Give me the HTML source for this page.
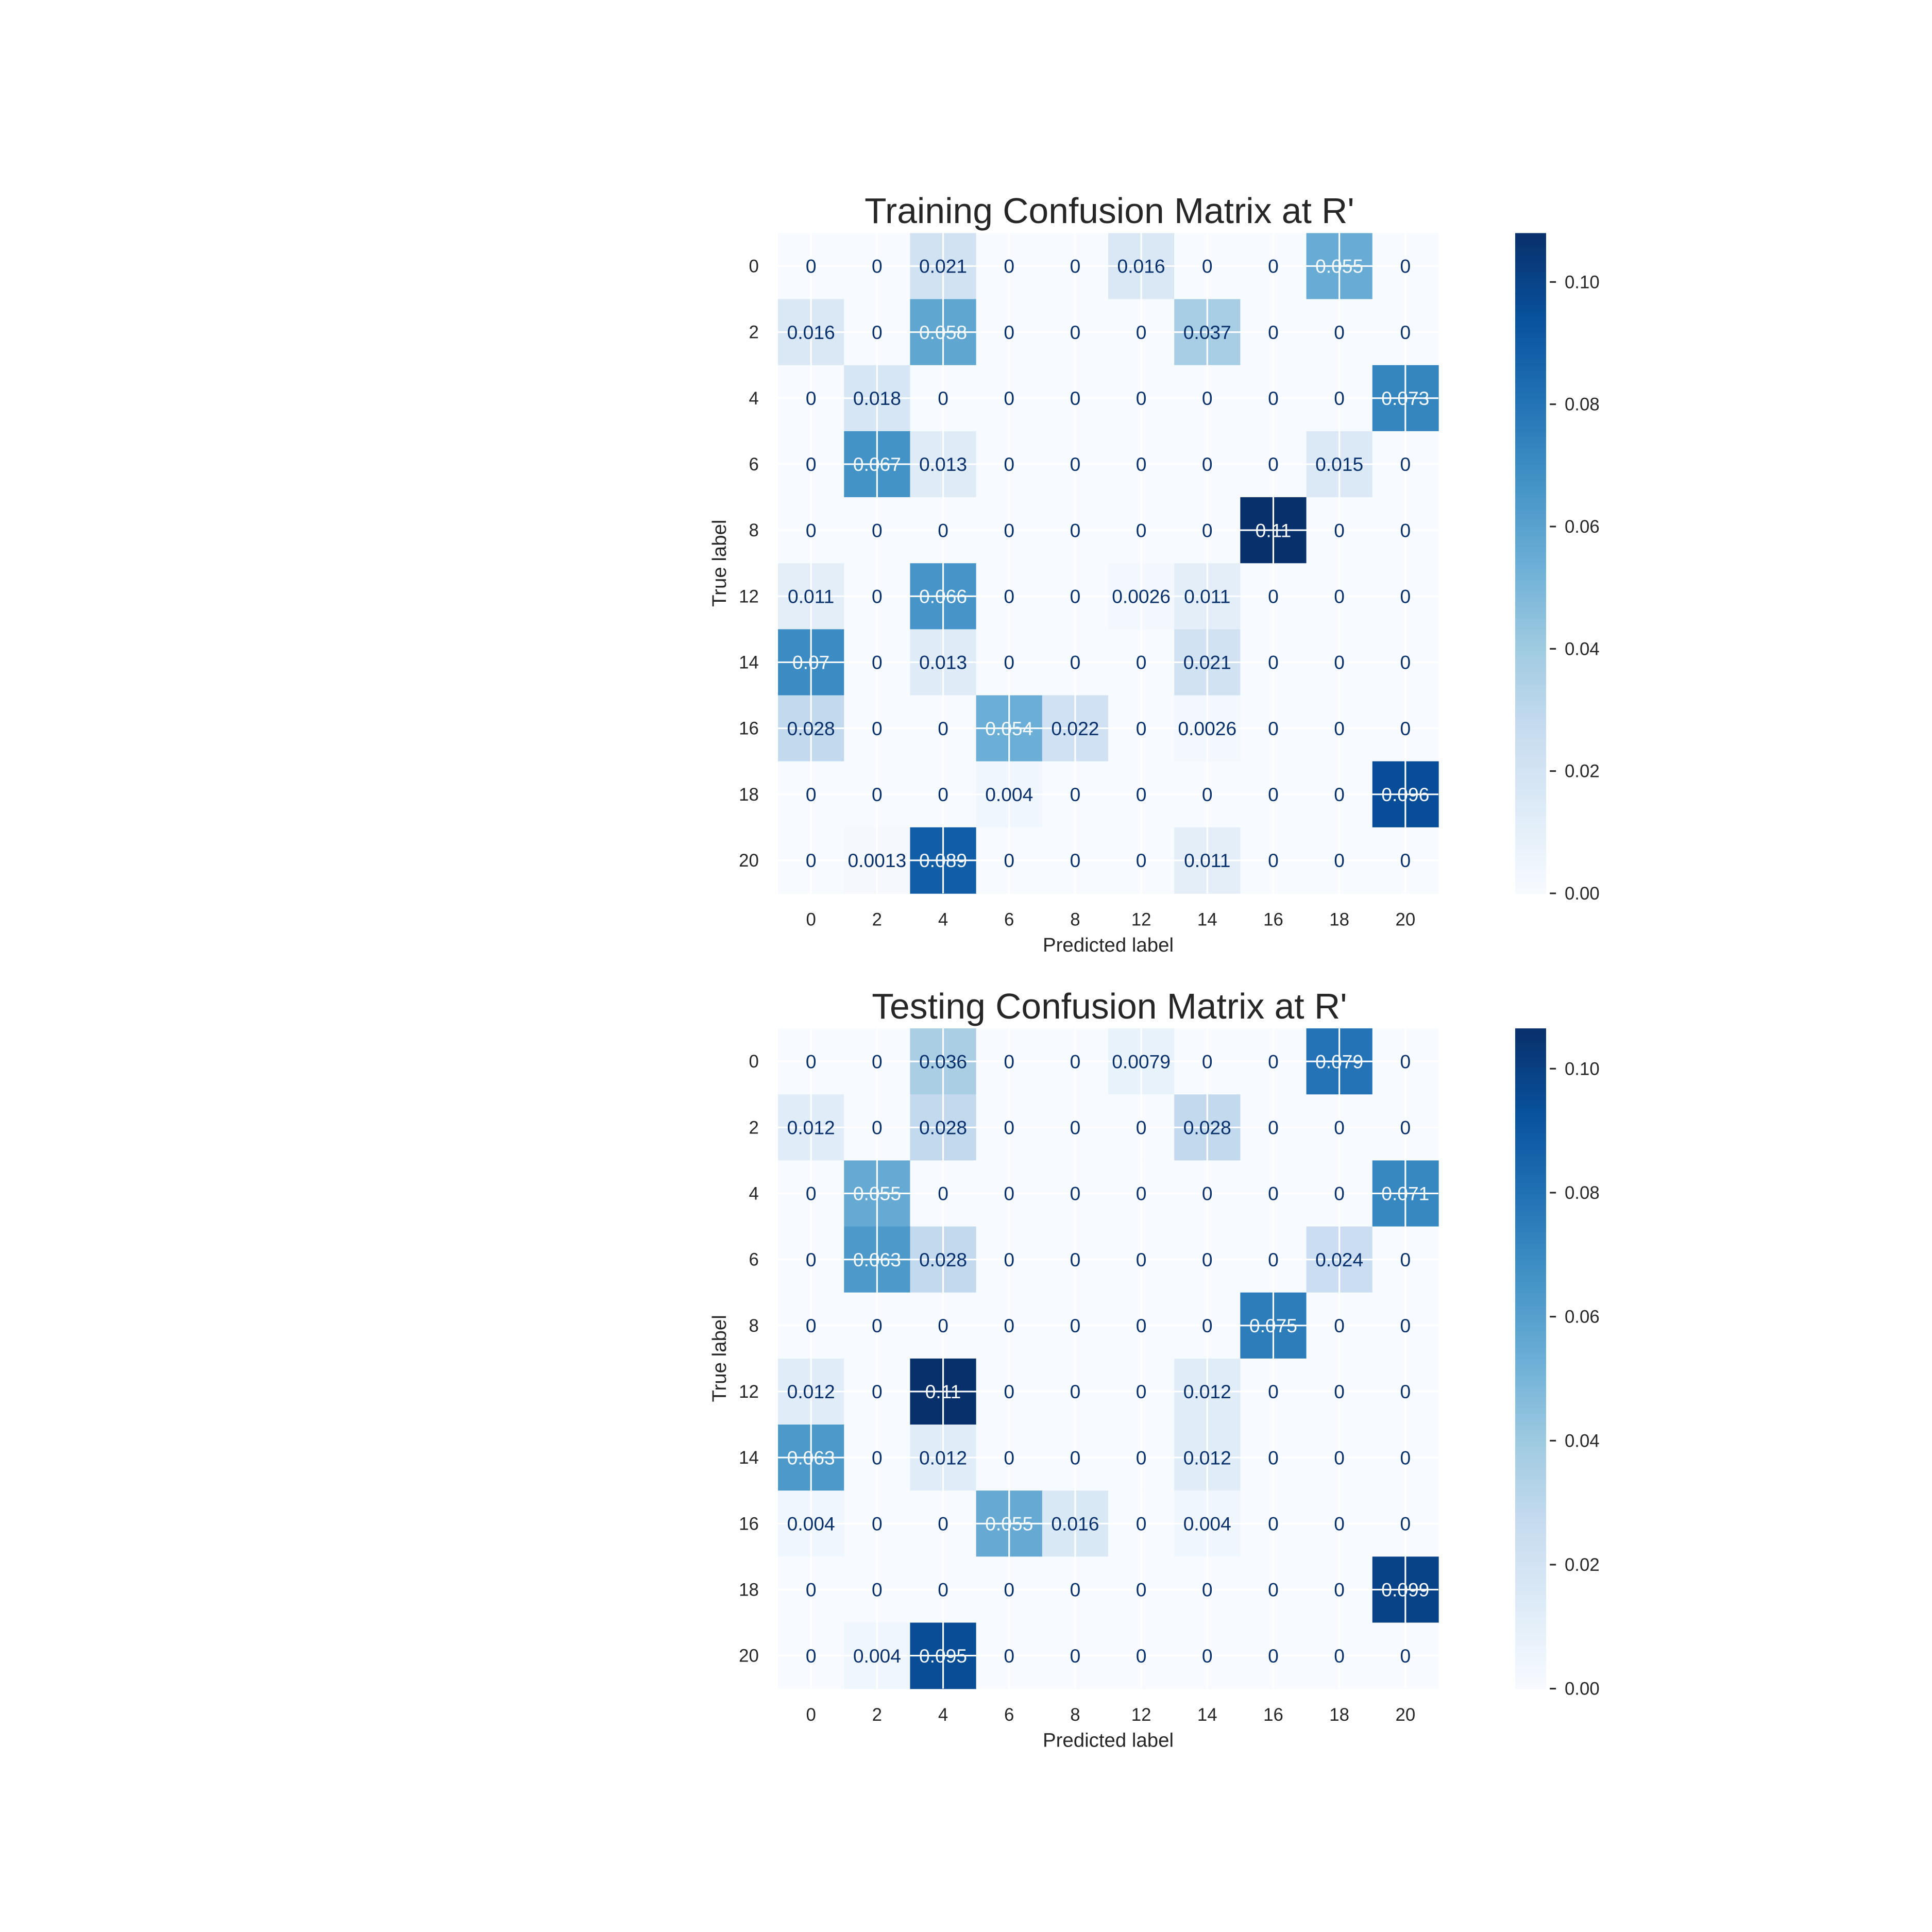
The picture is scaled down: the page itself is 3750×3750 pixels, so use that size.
<!DOCTYPE html>
<html><head><meta charset="utf-8"><style>
html,body{margin:0;padding:0;background:#fff;}
svg{display:block;font-family:"Liberation Sans",Arial,sans-serif;}
</style></head><body>
<svg id="chart" width="3750" height="3750" viewBox="0 0 1562.5 1562.5" xmlns="http://www.w3.org/2000/svg">
<rect width="1562.5" height="1562.5" fill="#fff"/>
</svg>
<script>
const labels = ["0","2","4","6","8","12","14","16","18","20"];
const trainValues = [
 [0,0,0.021,0,0,0.016,0,0,0.055,0],
 [0.016,0,0.058,0,0,0,0.037,0,0,0],
 [0,0.018,0,0,0,0,0,0,0,0.073],
 [0,0.067,0.013,0,0,0,0,0,0.015,0],
 [0,0,0,0,0,0,0,0.11,0,0],
 [0.011,0,0.066,0,0,0.0026,0.011,0,0,0],
 [0.07,0,0.013,0,0,0,0.021,0,0,0],
 [0.028,0,0,0.054,0.022,0,0.0026,0,0,0],
 [0,0,0,0.004,0,0,0,0,0,0.096],
 [0,0.0013,0.089,0,0,0,0.011,0,0,0]
];
const testValues = [
 [0,0,0.036,0,0,0.0079,0,0,0.079,0],
 [0.012,0,0.028,0,0,0,0.028,0,0,0],
 [0,0.055,0,0,0,0,0,0,0,0.071],
 [0,0.063,0.028,0,0,0,0,0,0.024,0],
 [0,0,0,0,0,0,0,0.075,0,0],
 [0.012,0,0.11,0,0,0,0.012,0,0,0],
 [0.063,0,0.012,0,0,0,0.012,0,0,0],
 [0.004,0,0,0.055,0.016,0,0.004,0,0,0],
 [0,0,0,0,0,0,0,0,0,0.099],
 [0,0.004,0.095,0,0,0,0,0,0,0]
];
const trainMax = 0.108;
const testMax = 0.1065;
const cbTicks = [0,0.02,0.04,0.06,0.08,0.10];
const cbTickLabels = ["0.00","0.02","0.04","0.06","0.08","0.10"];

const stops=["#f7fbff","#deebf7","#c6dbef","#9ecae1","#6baed6","#4292c6","#2171b5","#08519c","#08306b"];
function hex(h){return [1,3,5].map(i=>parseInt(h.substr(i,2),16));}
function blues(t){t=Math.max(0,Math.min(1,t));const p=t*8,i=Math.min(7,Math.floor(p)),f=p-i;
 const a=hex(stops[i]),b=hex(stops[i+1]);return "rgb("+a.map((v,k)=>Math.round(v+(b[k]-v)*f)).join(",")+")";}
const svg=document.getElementById('chart');const NS="http://www.w3.org/2000/svg";
function el(tag,attrs,parent){const e=document.createElementNS(NS,tag);for(const k in attrs)e.setAttribute(k,attrs[k]);(parent||svg).appendChild(e);return e;}

function panel(title,values,vmax,top,prefix){
 const g=el('g',{});
 
 
 const L=629.2,R=1163.3,B=top+534,n=labels.length,cw=(R-L)/n,ch=(B-top)/n;
 const xS=i=>L+cw*(i+0.5), yS=i=>top+ch*(i+0.5);
 const t=el('text',{x:(L+R)/2+1,y:top-8,'font-size':29,'text-anchor':'middle',fill:'#262626'},g);t.textContent=title;
 
 
 for(let r=0;r<n;r++)for(let c=0;c<n;c++){
  const v=values[r][c];
  const rc=el('rect',{x:L+cw*c,y:top+ch*r,width:cw+0.3,height:ch+0.3,fill:blues(v/vmax)},g);
  
  
 }
 for(let i=0;i<n;i++){
  el('line',{x1:xS(i),x2:xS(i),y1:top,y2:B,stroke:'#fff','stroke-width':1.3},g);
  el('line',{x1:L,x2:R,y1:yS(i),y2:yS(i),stroke:'#fff','stroke-width':1.3},g);
 }
 for(let r=0;r<n;r++)for(let c=0;c<n;c++){
  const v=values[r][c];
  const tx=el('text',{x:xS(c),y:yS(r)+5.5,'font-size':15.5,'text-anchor':'middle',fill:(v>=vmax/2?'#f7fbff':'#08306b')},g);
  tx.textContent=String(v);
  
  
 }
 for(let i=0;i<n;i++){
  const a=el('text',{x:xS(i),y:B+26,'font-size':14.5,'text-anchor':'middle',fill:'#262626'},g);a.textContent=labels[i];
  
  
  const b=el('text',{x:L-15.5,y:yS(i)+5,'font-size':14.5,'text-anchor':'end',fill:'#262626'},g);b.textContent=labels[i];
  
  
 }
 const xl=el('text',{x:(L+R)/2,y:B+47,'font-size':16,'text-anchor':'middle',fill:'#262626'},g);xl.textContent='Predicted label';
 
 
 const yl=el('text',{x:0,y:0,'font-size':16,'text-anchor':'middle',fill:'#262626',transform:'translate(587,'+((top+B)/2)+') rotate(-90)'},g);yl.textContent='True label';
 
 
 const cx=1225.4,cwid=25,steps=120;
 const cb=el('g',{},g);
 
 
 for(let k=0;k<steps;k++){
  const h=(B-top)/steps;
  el('rect',{x:cx,y:B-h*(k+1),width:cwid,height:h+0.4,fill:blues((k+0.5)/steps)},cb);
 }
 cbTicks.forEach((tv,i)=>{
  if(tv>vmax)return;
  const y=B-(tv/vmax)*(B-top);
  el('line',{x1:cx+cwid+3,x2:cx+cwid+8,y1:y,y2:y,stroke:'#262626','stroke-width':1.3},cb);
  const tt=el('text',{x:cx+cwid+15,y:y+5,'font-size':14.5,fill:'#262626'},cb);tt.textContent=cbTickLabels[i];
  
  
 });
}
panel("Training Confusion Matrix at R'",trainValues,trainMax,188.5,'training');
panel("Testing Confusion Matrix at R'",testValues,testMax,831.7,'testing');
</script>
</body></html>
